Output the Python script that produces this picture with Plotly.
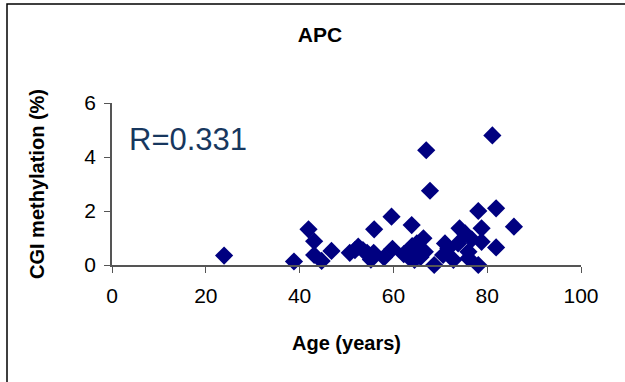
import plotly.graph_objects as go

age = [23.9, 38.8, 41.9, 43.1, 43.1, 44.7, 46.8, 50.7, 51.8, 52.5, 53.5, 54.4, 55.2, 55.8, 55.9,
       58.0, 59.6, 59.8, 62.2, 62.8, 63.5, 63.9, 64.0, 64.5, 65.0, 65.5, 65.8, 66.4, 66.7, 67.0,
       67.8, 68.7, 70.6, 71.0, 71.7, 72.8, 73.8, 74.1, 75.3, 76.0, 76.0, 76.7, 78.1, 78.1, 78.8,
       78.8, 81.1, 81.9, 81.9, 85.7]
meth = [0.35, 0.13, 1.32, 0.88, 0.37, 0.15, 0.52, 0.45, 0.55, 0.68, 0.55, 0.45, 0.20, 0.45, 1.32,
        0.28, 1.79, 0.60, 0.40, 0.44, 0.25, 1.48, 0.70, 0.19, 0.80, 0.50, 0.30, 0.99, 0.49, 4.25,
        2.75, 0.00, 0.37, 0.80, 0.62, 0.19, 0.80, 1.36, 1.17, 0.49, 0.25, 0.95, 2.00, 0.00, 1.36,
        0.86, 4.80, 2.10, 0.65, 1.42]

x_ticks = [0, 20, 40, 60, 80, 100]
y_ticks = [0, 2, 4, 6]

fig = go.Figure()
fig.add_trace(go.Scatter(
    x=age, y=meth, mode="markers",
    marker=dict(symbol="diamond", size=14, color="#000080", line=dict(width=0)),
    cliponaxis=False, showlegend=False,
))

font_family = "Liberation Sans, Arial, sans-serif"
fig.update_layout(
    width=625, height=382,
    margin=dict(l=112, r=44, t=103, b=117),
    paper_bgcolor="white", plot_bgcolor="white",
    font=dict(family=font_family, color="black", size=16),
    title=dict(text="<b>APC</b>", x=0.512, xanchor="center", y=0.908, yanchor="middle",
               font=dict(size=21, family=font_family)),
    xaxis=dict(range=[0, 100], tickvals=x_ticks, showgrid=False, zeroline=False,
               showline=True, linecolor="#555555", linewidth=1.5,
               ticks="outside", ticklen=6, tickcolor="#555555",
               tickfont=dict(size=21), ticklabelstandoff=5,
               title=dict(text="<b>Age (years)</b>", font=dict(size=20), standoff=30)),
    yaxis=dict(range=[0, 6], tickvals=y_ticks, showgrid=False, zeroline=False,
               showline=True, linecolor="#555555", linewidth=1.5,
               ticks="outside", ticklen=6, tickcolor="#555555",
               tickfont=dict(size=21), ticklabelstandoff=4,
               title=dict(text="<b>CGI methylation (%)</b>", font=dict(size=20), standoff=34)),
    shapes=[dict(type="rect", xref="paper", yref="paper",
                 x0=(7 - 112) / 469, x1=(640 - 112) / 469,
                 y0=(265 - 400) / 162, y1=(265 - 4) / 162,
                 line=dict(color="black", width=1.5), fillcolor="rgba(0,0,0,0)", layer="below")],
    annotations=[dict(text="R=0.331", x=3.2, y=4.65, xref="x", yref="y", xanchor="left",
                      yanchor="middle", showarrow=False,
                      font=dict(size=31, color="#17375E", family=font_family))],
)

fig.write_html("out.html", config={"displayModeBar": False},
               post_script="document.body.style.margin='0';")
